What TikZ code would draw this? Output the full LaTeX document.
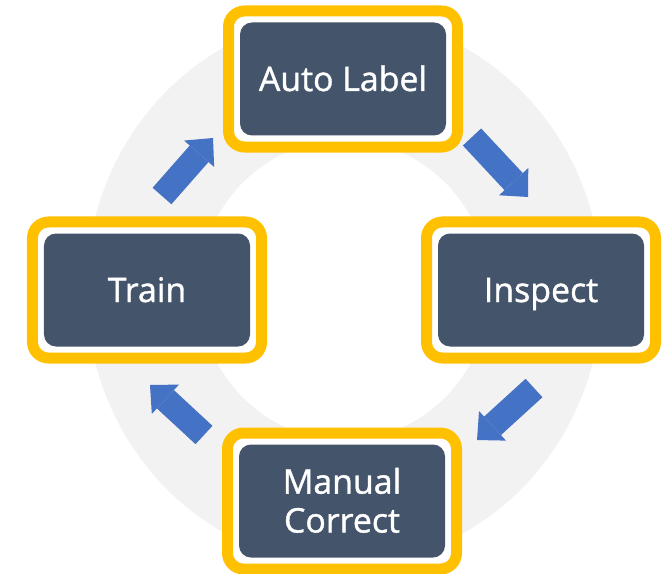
\documentclass[tikz,border=0pt]{standalone}
\usepackage{fontspec}
\setmainfont{Open Sans}
\newfontfamily\stagefont{Open Sans}[FakeBold=1.2]
\usetikzlibrary{arrows.meta}

\definecolor{ringgray}{HTML}{F2F2F2}
\definecolor{framegold}{HTML}{FFC000}
\definecolor{boxslate}{HTML}{44546A}
\definecolor{flowblue}{HTML}{4472C4}

\begin{document}
\begin{tikzpicture}[x=1bp, y=-1bp,
    frame/.style={draw=framegold, fill=white, line width=11bp, rounded corners=16bp,
        minimum width=229bp, minimum height=136bp, outer sep=0pt},
    stage/.style={fill=boxslate, rounded corners=12bp, minimum width=206bp,
        minimum height=113bp, text=white, align=center,
        text height=24bp, text depth=0pt,
        font=\stagefont\fontsize{34}{39}\selectfont},
    flow/.style={flowblue, line width=25bp,
        -{Triangle[length=21bp, width=40bp, line width=0pt]}}]

    \useasboundingbox (0,0) rectangle (664,574);

    % Gray ring behind the cycle
    \fill[ringgray, even odd rule] (344,290) ellipse [x radius=258, y radius=274]
        (344,290) ellipse [x radius=145, y radius=150];

    % Stages, each in a gold frame
    \node[frame] (auto frame) at (343,79) {};
    \node[stage] (auto) at (auto frame) {Auto Label};
    \node[frame] (inspect frame) at (541,290) {};
    \node[stage] (inspect) at (inspect frame) {Inspect};
    \node[frame] (manual frame) at (342,501) {};
    \node[stage, text height=63bp] (manual) at (manual frame) {Manual\\Correct};
    \node[frame] (train frame) at (147,290) {};
    \node[stage] (train) at (train frame) {Train};

    % Ends of the block arrows
    \coordinate (tl tail) at (162,196);
    \coordinate (tl tip) at (213,138);
    \coordinate (tr tail) at (472,137);
    \coordinate (tr tip) at (528,197);
    \coordinate (br tail) at (534,388);
    \coordinate (br tip) at (477,440);
    \coordinate (bl tail) at (204,435);
    \coordinate (bl tip) at (150,385);

    % Block arrows round the cycle
    \draw[flow] (tl tail) -- (tl tip);
    \draw[flow] (tr tail) -- (tr tip);
    \draw[flow] (br tail) -- (br tip);
    \draw[flow] (bl tail) -- (bl tip);
\end{tikzpicture}
\end{document}
